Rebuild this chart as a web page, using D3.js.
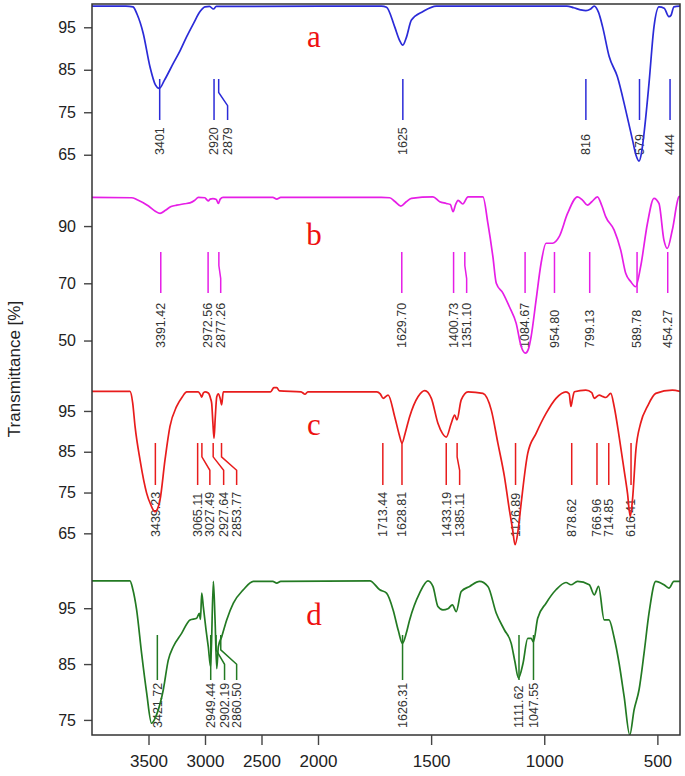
<!DOCTYPE html>
<html><head><meta charset="utf-8">
<script src="https://cdn.jsdelivr.net/npm/d3@7"></script>
<style>body{margin:0;background:#fff}</style>
</head><body>
<svg id="chart" width="685" height="776"></svg>
<script>
// ---------------- data ----------------
const xTicks = [3500, 3000, 2500, 2000, 1500, 1000, 500];
const yTicksA = [65, 75, 85, 95];
const yTicksB = [50, 70, 90];
const yTicksC = [65, 75, 85, 95];
const yTicksD = [75, 85, 95];

// [wavenumber cm-1, transmittance %]
const specA = [[4000,100],[3700,100],[3637,99.8],[3600,98],[3547,93.6],[3487,85.7],[3440,81.5],[3404,80.6],[3360,82.5],[3281,86.5],[3220,89.5],[3162,92.8],[3100,96],[3044,98.7],[3000,99.8],[2960,99.9],[2925,99.3],[2900,99.9],[1720,100],[1697,99.7],[1661,95.1],[1640,92],[1625,90.8],[1610,92.5],[1587,96.7],[1536,98.7],[1477,100],[900,100],[870,99.6],[840,99.1],[816,98.9],[795,99.3],[779,100],[760,98.5],[742,95.1],[713,88.1],[677,83.4],[640,75.5],[610,68.5],[595,65],[581,63.5],[570,65.5],[559,70],[537,81.8],[515,95.1],[493,99.8],[470,99.5],[449,97.5],[440,97.8],[427,99.8],[400,100]];
const specB = [[4000,100],[3650,99.9],[3600,99.2],[3500,97],[3440,95.2],[3398,94.4],[3350,95.5],[3300,96.8],[3250,97.3],[3180,97.8],[3133,98.1],[3090,99],[3059,100],[3000,99.9],[2985,99.2],[2970,98.8],[2955,99.4],[2930,99.6],[2900,99.3],[2882,97.9],[2865,99.4],[2840,100],[2400,100],[2365,99.4],[2330,100],[1720,100],[1683,99.9],[1660,98.6],[1634,97],[1610,98.5],[1587,99.7],[1492,100.2],[1462,98.5],[1433,97.9],[1415,97.5],[1403,95],[1392,97.5],[1381,99],[1360,97.7],[1337,100.2],[1271,100.2],[1249,90.9],[1227,79.3],[1212,70],[1182,66.5],[1154,61.8],[1124,56],[1102,47.9],[1083,45.6],[1070,47],[1058,51.4],[1036,64.2],[1014,77],[992,84],[963,84],[934,86.3],[897,94.4],[853,100.2],[830,99],[809,97.3],[790,98.5],[765,100.2],[745,97],[728,93.2],[691,88.6],[662,81.6],[640,73.5],[618,70.6],[596,68.8],[574,75.8],[544,90.9],[515,99.7],[493,97.9],[471,85.1],[456,82.2],[434,88.6],[405,100.2],[400,100.4]];
const specC = [[4000,99.8],[3664,99.8],[3640,97],[3619,91.2],[3575,83],[3516,74.8],[3480,72],[3443,70.3],[3420,71],[3398,73.2],[3354,83],[3310,91.2],[3251,96.1],[3200,98.5],[3162,99.7],[3060,99.7],[3040,99],[3029,98.4],[3015,99.4],[3000,99.7],[2971,99.4],[2950,98],[2941,96.9],[2930,92],[2920,88.3],[2910,93],[2896,98.5],[2882,99.2],[2865,98],[2853,96.5],[2838,99.7],[2420,99.7],[2390,100.7],[2365,100.7],[2340,99.9],[2150,99.7],[2115,99.1],[2090,99.7],[1740,99.7],[1725,99.2],[1712,98.1],[1690,98.9],[1661,93.6],[1640,89],[1629,87.1],[1615,89.5],[1595,93.6],[1558,98.5],[1528,100],[1499,98.1],[1470,92],[1450,89.5],[1433,88.6],[1411,92],[1396,94],[1386,92.8],[1367,97.7],[1337,99.7],[1271,99.3],[1234,95.2],[1205,87.1],[1176,78.9],[1154,70.7],[1140,66],[1129,62.2],[1115,66],[1102,72.4],[1073,84.6],[1036,89.5],[992,94.4],[948,98.1],[904,99.7],[890,99.2],[882,96.1],[875,98],[867,99.7],[816,100.1],[790,99.5],[779,98.1],[757,98.9],[740,98.5],[728,98.3],[706,99.3],[691,96.1],[669,88.7],[647,80.5],[632,74.8],[620,69.1],[610,73.2],[595,85.4],[574,92],[544,96.1],[507,99.3],[434,100.1],[400,99.8]];
const specD = [[4000,99.9],[3664,99.9],[3640,98.5],[3605,94.7],[3561,86.9],[3516,79.8],[3473,74.4],[3429,75.9],[3369,80.4],[3325,85.7],[3281,88.1],[3207,90.5],[3133,92.9],[3074,93.2],[3050,94.1],[3040,93],[3029,97.7],[3015,95.3],[2990,91],[2971,88.1],[2950,84.5],[2926,99.8],[2911,92.9],[2896,84.2],[2882,88.1],[2852,89.9],[2808,92.9],[2749,95.9],[2661,98.3],[2572,99.8],[2400,99.8],[2365,99.5],[2330,99.8],[1771,99.9],[1727,98.3],[1697,97.7],[1668,94.7],[1645,91],[1627,88.7],[1610,90.5],[1595,92.9],[1551,97.7],[1514,99.9],[1492,98.9],[1470,95.3],[1448,94.7],[1426,94.9],[1406,95.6],[1389,94.4],[1367,98],[1330,98.9],[1286,99.8],[1249,98.9],[1212,94.1],[1176,91.1],[1146,88.7],[1130,85.5],[1114,82.5],[1094,85.1],[1073,89.6],[1058,89.6],[1048,89],[1029,93.2],[992,95.9],[948,98.3],[904,99.6],[882,99.2],[853,99.8],[801,99.2],[779,97.4],[760,98.9],[735,92.9],[714,92.9],[692,89.9],[669,85.1],[647,79.2],[622,72.3],[603,76.8],[581,80.4],[559,86.9],[537,94.1],[507,99.8],[471,99.2],[449,98.6],[427,99.8],[400,99.8]];

// peak labels and the wavenumber where each label is written
const peaksA = ["3401","2920","2879","1625","816","579","444"];
const labelAtA = [3401, 2920, 2800, 1625, 816, 579, 444];
const peaksB = ["3391.42","2972.56","2877.26","1629.70","1400.73","1351.10","1084.67","954.80","799.13","589.78","454.27"];
const labelAtB = [3391.42, 2972.56, 2861, 1629.70, 1400.73, 1343, 1084.67, 954.80, 799.13, 589.78, 454.27];
const peaksC = ["3439.23","3065.11","3027.49","2927.64","2853.77","1713.44","1628.81","1433.19","1385.11","1126.89","878.62","766.96","714.85","616.41"];
const labelAtC = [3439.23, 3065.11, 2957, 2835, 2720, 1713.44, 1628.81, 1433.19, 1374, 1126.89, 878.62, 766.96, 714.85, 616.41];
const peaksD = ["3421.72","2949.44","2902.19","2860.50","1626.31","1111.62","1047.55"];
const labelAtD = [3421.72, 2949.44, 2827, 2720, 1626.31, 1111.62, 1047.55];

// ---------------- layout ----------------
const pLeft = 92, pRight = 680, pTop = 4, pBottom = 735;
const svg = d3.select("#chart");
const x = d3.scaleLinear().domain([4000, 2000, 400]).range([pLeft, 318, pRight]);

const panels = [
  {spec: specA, peaks: peaksA, at: labelAtA, ticks: yTicksA, color: "#2b2bd8", range: [190, 4],   domain: [56.7, 100.48], letter: "a", letterY: 47,  lt: 79,  lb: 120, tb: 155},
  {spec: specB, peaks: peaksB, at: labelAtB, ticks: yTicksB, color: "#e61ee6", range: [362, 190], domain: [42.5, 102.6],  letter: "b", letterY: 245, lt: 252, lb: 293, tb: 348},
  {spec: specC, peaks: peaksC, at: labelAtC, ticks: yTicksC, color: "#e81c1c", range: [568, 362], domain: [56.5, 107],    letter: "c", letterY: 435, lt: 443, lb: 485, tb: 537},
  {spec: specD, peaks: peaksD, at: labelAtD, ticks: yTicksD, color: "#237a23", range: [735, 568], domain: [72.3, 102.2],  letter: "d", letterY: 625, lt: 635, lb: 680, tb: 728}
];

svg.append("defs").append("clipPath").attr("id", "plotclip")
  .append("rect").attr("x", pLeft).attr("y", pTop).attr("width", pRight - pLeft).attr("height", pBottom - pTop);

panels.forEach(p => {
  const y = d3.scaleLinear().domain(p.domain).range(p.range);
  const g = svg.append("g");

  // y axis
  const ya = g.append("g").attr("transform", `translate(${pLeft},0)`)
    .call(d3.axisLeft(y).tickValues(p.ticks).tickSize(8).tickPadding(8).tickFormat(d3.format("d")));
  ya.select(".domain").remove();
  ya.selectAll("line").attr("stroke", "#444").attr("stroke-width", 1.4);
  ya.selectAll("text").attr("font-family", "Liberation Sans, Arial, sans-serif").attr("font-size", 16).attr("fill", "#222");

  // peak marker lines
  p.peaks.forEach((lab, i) => {
    const wn = +lab;
    const x0 = x(wn), x1 = x(p.at[i]);
    const h = p.lb - p.lt;
    const pts = x0 === x1 ? [[x0, p.lt], [x0, p.lb]]
      : [[x0, p.lt], [x0, p.lt + h * 0.33], [x1, p.lt + h * 0.65], [x1, p.lb]];
    g.append("path").attr("d", d3.line()(pts)).attr("fill", "none")
      .attr("stroke", p.color).attr("stroke-width", 1.5);
    g.append("text").attr("transform", `translate(${x1},${p.tb}) rotate(-90)`)
      .attr("dy", "0.35em").attr("text-anchor", "start")
      .attr("font-family", "Liberation Sans, Arial, sans-serif").attr("font-size", 12.5)
      .attr("fill", "#333").text(lab);
  });

  // spectrum
  g.append("path").datum(p.spec)
    .attr("clip-path", "url(#plotclip)")
    .attr("d", d3.line().curve(d3.curveMonotoneX).x(d => x(d[0])).y(d => y(d[1])))
    .attr("fill", "none").attr("stroke", p.color).attr("stroke-width", 1.7).attr("stroke-linejoin", "round");

  // panel letter
  g.append("text").attr("x", 314).attr("y", p.letterY).attr("text-anchor", "middle")
    .attr("font-family", "Liberation Serif, Times New Roman, serif").attr("font-size", 31)
    .attr("fill", "#ee1111").text(p.letter);
});

// frame
svg.append("rect").attr("x", pLeft).attr("y", pTop).attr("width", pRight - pLeft).attr("height", pBottom - pTop)
  .attr("fill", "none").attr("stroke", "#333").attr("stroke-width", 1.5);

// x axis
const xa = svg.append("g").attr("transform", `translate(0,${pBottom})`)
  .call(d3.axisBottom(x).tickValues(xTicks).tickSize(10).tickPadding(10).tickFormat(d3.format("d")));
xa.select(".domain").remove();
xa.selectAll("line").attr("stroke", "#444").attr("stroke-width", 1.4);
xa.selectAll("text").attr("font-family", "Liberation Sans, Arial, sans-serif").attr("font-size", 17).attr("fill", "#222");

// y label
svg.append("text").attr("transform", "translate(14,369) rotate(-90)")
  .attr("text-anchor", "middle").attr("dy", "0.35em")
  .attr("font-family", "Liberation Sans, Arial, sans-serif").attr("font-size", 17)
  .attr("fill", "#222").text("Transmittance [%]");
</script>
</body></html>
